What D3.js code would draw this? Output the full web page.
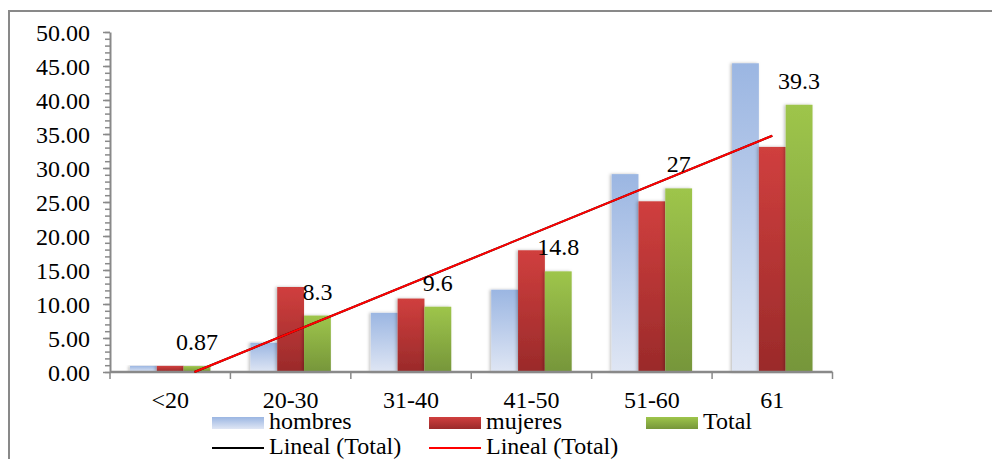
<!DOCTYPE html>
<html>
<head>
<meta charset="utf-8">
<script src="https://cdn.jsdelivr.net/npm/d3@7"></script>
</head>
<body style="margin:0; background:#fff">
<script>
// Age groups and series values
const categories = ['<20', '20-30', '31-40', '41-50', '51-60', '61'];
const hombres = [0.9, 4.3, 8.7, 12.1, 29.1, 45.4];
const mujeres = [0.9, 12.5, 10.8, 17.9, 25.1, 33.1];
const total = [0.87, 8.3, 9.6, 14.8, 27, 39.3];
const totalLabels = ['0.87', '8.3', '9.6', '14.8', '27', '39.3'];
const yTicks = [0, 5, 10, 15, 20, 25, 30, 35, 40, 45, 50];

const series = [
    { key: 'hombres', values: hombres, top: '#9bb6e2', bottom: '#dfe6f4' },
    { key: 'mujeres', values: mujeres, top: '#d03f3e', bottom: '#9a2a2a' },
    { key: 'Total', values: total, top: '#9ec54b', bottom: '#76963a' }
];

const FONT = 'Liberation Serif';
const FONT_SIZE = 24;
const AXIS_GREY = '#898989';
const W = 992, H = 459;
const plot = { left: 110, right: 832.5, top: 32, bottom: 372 };

const svg = d3.select('body').append('svg')
    .attr('width', W)
    .attr('height', H)
    .attr('font-family', FONT)
    .attr('font-size', FONT_SIZE)
    .style('display', 'block');

const defs = svg.append('defs');
series.forEach(s => {
    const g = defs.append('linearGradient')
        .attr('id', `grad-${s.key}`)
        .attr('x1', 0).attr('y1', 0).attr('x2', 0).attr('y2', 1);
    g.append('stop').attr('offset', '0%').attr('stop-color', s.top);
    g.append('stop').attr('offset', '100%').attr('stop-color', s.bottom);
});
const shadow = defs.append('filter').attr('id', 'shadow')
    .attr('x', '-30%').attr('y', '-5%').attr('width', '160%').attr('height', '110%');
shadow.append('feDropShadow')
    .attr('dx', -1.5).attr('dy', 0).attr('stdDeviation', 1.8)
    .attr('flood-color', '#000').attr('flood-opacity', 0.25);

// Outer frame (only left and top edges fall inside the picture)
svg.append('path')
    .attr('d', `M9,${H + 2} V11 H${W + 2}`)
    .attr('fill', 'none')
    .attr('stroke', AXIS_GREY)
    .attr('stroke-width', 2);

// Scales
const x0 = d3.scaleBand()
    .domain(categories)
    .range([plot.left, plot.right])
    .paddingInner(0)
    .paddingOuter(0);

const x1 = d3.scaleBand()
    .domain(series.map(s => s.key))
    .range([0, x0.bandwidth()])
    .paddingOuter(0.745)
    .paddingInner(0);

const y = d3.scaleLinear()
    .domain([0, 50])
    .range([plot.bottom, plot.top]);

// Bars
const groups = svg.append('g').selectAll('g')
    .data(categories)
    .join('g')
    .attr('transform', d => `translate(${x0(d)},0)`);

groups.selectAll('rect')
    .data((d, i) => series.map(s => ({ key: s.key, value: s.values[i] })))
    .join('rect')
    .attr('x', d => x1(d.key))
    .attr('y', d => y(d.value))
    .attr('width', x1.bandwidth())
    .attr('height', d => y(0) - y(d.value))
    .attr('fill', d => `url(#grad-${d.key})`)
    .attr('filter', 'url(#shadow)');

// Y axis with minor ticks
svg.append('g')
    .attr('transform', `translate(${plot.left},0)`)
    .call(d3.axisLeft(y).tickValues(d3.range(0, 51, 1)).tickSize(5).tickFormat(''))
    .call(g => g.select('.domain').remove())
    .call(g => g.selectAll('line').attr('stroke', AXIS_GREY).attr('stroke-width', 1.5));

svg.append('g')
    .attr('transform', `translate(${plot.left},0)`)
    .call(d3.axisLeft(y).tickValues(yTicks).tickSize(7).tickPadding(13).tickSizeOuter(0)
        .tickFormat(d => d3.format('.2f')(d)))
    .call(g => g.attr('font-family', FONT).attr('font-size', FONT_SIZE))
    .call(g => g.select('.domain').attr('stroke', AXIS_GREY).attr('stroke-width', 2))
    .call(g => g.selectAll('line').attr('stroke', AXIS_GREY).attr('stroke-width', 1.5))
    .call(g => g.selectAll('text').attr('dy', '0.35em').attr('fill', '#000'));

// X axis: ticks at band boundaries
const xAxis = svg.append('g')
    .attr('transform', `translate(0,${plot.bottom})`);

xAxis.append('line')
    .attr('x1', plot.left).attr('x2', plot.right)
    .attr('stroke', AXIS_GREY)
    .attr('stroke-width', 2.5);

xAxis.selectAll('.xtick')
    .data(categories.concat(['end']))
    .join('line')
    .attr('class', 'xtick')
    .attr('x1', (d, i) => i < categories.length ? x0(d) : plot.right)
    .attr('x2', (d, i) => i < categories.length ? x0(d) : plot.right)
    .attr('y1', 0).attr('y2', 7)
    .attr('stroke', AXIS_GREY)
    .attr('stroke-width', 1.5);

xAxis.selectAll('text')
    .data(categories)
    .join('text')
    .attr('x', d => x0(d) + x0.bandwidth() / 2)
    .attr('y', 36)
    .attr('text-anchor', 'middle')
    .attr('fill', '#000')
    .text(d => d);

// Linear trendline of Total (least squares on category index 1..n)
const xs = categories.map((d, i) => i + 1);
const mx = d3.mean(xs), my = d3.mean(total);
const slope = d3.sum(xs, (v, i) => (v - mx) * (total[i] - my)) / d3.sum(xs, v => (v - mx) ** 2);
const intercept = my - slope * mx;
const xIdx = d3.scaleLinear().domain([1, categories.length])
    .range([x0(categories[0]) + x0.bandwidth() / 2, x0(categories[categories.length - 1]) + x0.bandwidth() / 2]);
const xStart = Math.max(1, -intercept / slope);
const trend = [xStart, categories.length].map(v => ({ xv: v, yv: slope * v + intercept }));
const trendLine = d3.line().x(d => xIdx(d.xv)).y(d => y(d.yv));

svg.append('path')
    .datum(trend)
    .attr('d', trendLine)
    .attr('fill', 'none')
    .attr('stroke', '#000')
    .attr('stroke-width', 2);

svg.append('path')
    .datum(trend)
    .attr('d', trendLine)
    .attr('fill', 'none')
    .attr('stroke', '#f00')
    .attr('stroke-width', 2);

// Data labels above Total bars
svg.append('g').selectAll('text')
    .data(categories)
    .join('text')
    .attr('x', (d, i) => x0(d) + x1('Total') + x1.bandwidth() / 2)
    .attr('y', (d, i) => y(total[i]) - 16)
    .attr('text-anchor', 'middle')
    .attr('fill', '#000')
    .text((d, i) => totalLabels[i]);

// Legend
const legendItems = [
    { label: 'hombres', type: 'rect', key: 'hombres', col: 0, row: 0 },
    { label: 'mujeres', type: 'rect', key: 'mujeres', col: 1, row: 0 },
    { label: 'Total', type: 'rect', key: 'Total', col: 2, row: 0 },
    { label: 'Lineal (Total)', type: 'line', color: '#000', col: 0, row: 1 },
    { label: 'Lineal (Total)', type: 'line', color: '#f00', col: 1, row: 1 }
];

const legend = svg.append('g');
const item = legend.selectAll('g')
    .data(legendItems)
    .join('g')
    .attr('transform', d => `translate(${212 + d.col * 217},${423 + d.row * 25})`);

item.filter(d => d.type === 'rect').append('rect')
    .attr('x', 0).attr('y', -6)
    .attr('width', 52).attr('height', 12)
    .attr('fill', d => `url(#grad-${d.key})`);

item.filter(d => d.type === 'line').append('line')
    .attr('x1', 0).attr('x2', 52)
    .attr('y1', 0).attr('y2', 0)
    .attr('stroke', d => d.color)
    .attr('stroke-width', 2);

item.append('text')
    .attr('x', 57)
    .attr('y', 6)
    .attr('fill', '#000')
    .text(d => d.label);
</script>
</body>
</html>
